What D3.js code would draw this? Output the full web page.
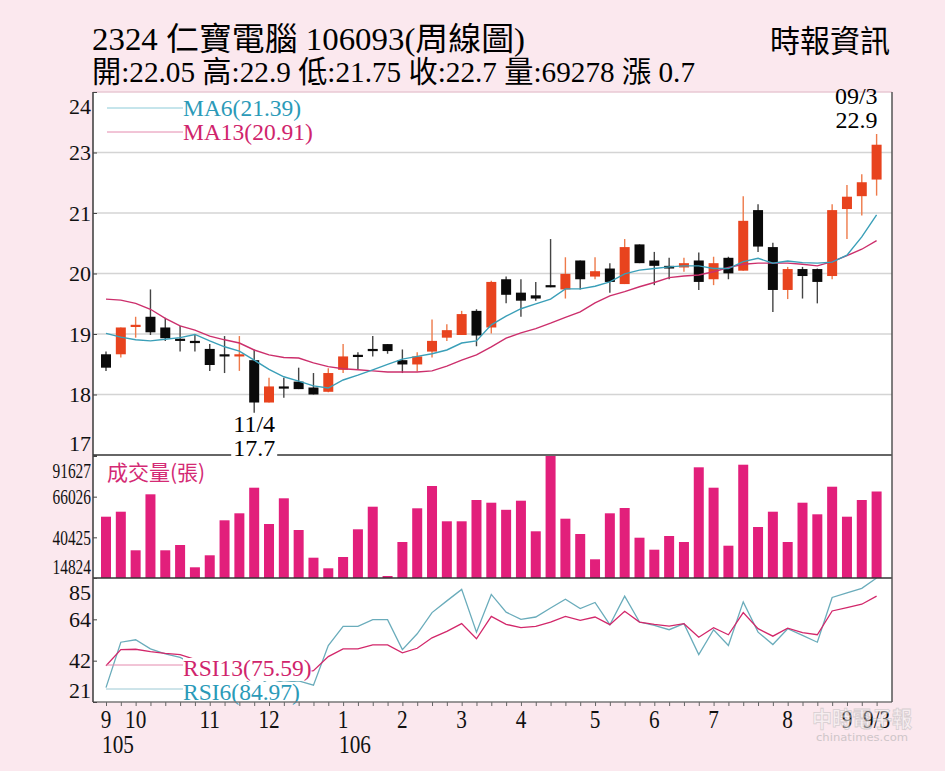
<!DOCTYPE html>
<html>
<head>
<meta charset="utf-8">
<script src="https://cdn.jsdelivr.net/npm/d3@7"></script>
<style>
  body { margin: 0; background: #fbe8ee; }
  svg { display: block; }
</style>
</head>
<body>
<svg width="945" height="771"></svg>
<script>
// weekly bars, 105/9 .. 106/9/3
var opens  = [18.79,18.79,19.30,19.49,19.29,19.08,19.04,18.89,18.79,18.75,18.68,17.89,18.19,18.28,18.17,18.09,18.50,18.78,18.89,18.98,
              18.68,18.60,18.84,19.10,19.15,19.60,19.29,20.19,19.94,19.89,20.08,20.00,20.54,20.24,20.39,20.10,20.84,20.54,20.44,20.41,
              20.54,20.19,20.59,20.35,21.48,20.79,19.99,20.38,20.38,20.25,21.50,21.74,22.05];
var highs  = [18.84,19.29,19.49,20.00,19.47,19.32,19.17,18.98,19.13,19.13,18.88,18.35,18.35,18.54,18.44,18.53,18.98,18.83,19.13,18.98,
              18.88,18.83,19.44,19.35,19.60,19.63,20.16,20.24,20.19,20.14,20.94,20.60,20.54,20.60,20.49,20.94,20.84,20.70,20.59,20.59,
              20.69,20.61,20.61,21.74,21.59,20.87,20.42,20.42,20.39,21.59,21.95,22.15,22.90];
var lows   = [18.48,18.73,19.10,19.15,19.04,18.84,18.84,18.48,18.44,18.48,17.70,17.89,17.98,18.14,18.04,18.08,18.44,18.50,18.75,18.80,
              18.44,18.47,18.73,19.04,19.15,18.94,19.18,19.74,19.49,19.79,20.04,19.83,20.00,20.19,19.94,20.10,20.49,20.08,20.19,20.33,
              19.99,20.08,20.19,20.35,20.70,19.58,19.82,19.83,19.74,20.19,20.94,21.38,21.75];
var closes = [18.54,19.29,19.34,19.20,19.09,19.04,19.00,18.59,18.75,18.79,17.89,18.19,18.15,18.14,18.04,18.44,18.75,18.75,18.85,18.85,
              18.60,18.75,19.04,19.24,19.54,19.14,20.14,19.90,19.79,19.83,20.04,20.29,20.19,20.34,20.14,20.79,20.49,20.44,20.39,20.49,
              20.14,20.49,20.30,21.28,20.80,19.99,20.38,20.25,20.14,21.48,21.73,22.00,22.70];
var ma6    = [19.18,19.11,19.06,19.04,19.07,19.10,19.16,19.04,18.93,18.85,18.68,18.51,18.37,18.29,18.20,18.16,18.31,18.40,18.50,18.60,
              18.70,18.75,18.80,18.87,19.00,19.04,19.34,19.50,19.64,19.73,19.82,20.01,20.01,20.06,20.14,20.29,20.36,20.39,20.42,20.44,
              20.44,20.39,20.39,20.52,20.58,20.49,20.53,20.50,20.49,20.51,20.64,20.98,21.39];
var ma13   = [19.82,19.80,19.74,19.63,19.46,19.32,19.24,19.13,19.06,19.00,18.87,18.78,18.73,18.72,18.63,18.56,18.52,18.50,18.48,18.46,
              18.46,18.46,18.48,18.57,18.68,18.78,18.93,19.09,19.19,19.27,19.37,19.48,19.58,19.75,19.88,19.96,20.05,20.13,20.22,20.25,
              20.27,20.33,20.41,20.47,20.49,20.49,20.49,20.47,20.44,20.52,20.63,20.75,20.91];
var volumes = [53414,56560,32261,67513,32261,35598,21560,29114,51146,55553,71668,48817,64995,45040,27603,20930,28044,45481,59707,16083,
               37486,58700,72738,50517,50517,63925,62225,57756,63484,44222,91627,52153,42522,26596,55553,58889,40193,32639,41263,37486,
               84509,71668,35157,86146,46929,56560,37486,62225,54923,72297,53414,63925,69278];
var rsi6  = [28.37,51.8,53.05,48.36,45.76,43.99,40,36,34,36,28,33,31,31.86,29.62,50.08,59.97,59.97,63.46,63.46,
             48.0,56.17,67.11,73.15,79.08,57.0,76.48,67.3,63.62,64.82,69.5,74.03,69.2,72.32,60.86,75.6,62.22,60.5,58.26,61.38,
             45.39,58.26,50.08,72.62,57.0,50.6,58.78,55.29,51.8,74.92,77.32,79.62,84.97];
var rsi13 = [39.67,48.0,48.16,46.96,46.07,45.39,43,41,40,40.5,36,38,37,36,37.06,44.35,48.36,48.36,50.42,50.42,
             46.28,48.68,54.09,57.37,61.38,53.57,65.18,61.02,59.3,59.97,62.22,65.18,63.1,64.82,60.86,67.78,62.22,61.02,60.14,61.38,
             54.4,59.3,55.65,67.11,58.78,54.92,59.1,56.7,55.65,67.94,69.7,71.43,75.59];

// axis labels
var priceLabels = ["17","18","19","20","21","23","24"];
var volTicks = [14824, 40425, 66026, 91627];
var rsiLabels = ["21","42","64","85"];
var monthIdx    = [0, 2, 7, 11, 16, 20, 24, 28, 33, 37, 41, 46, 50, 52];
var monthLabels = ["9","10","11","12","1","2","3","4","5","6","7","8","9","9/3"];
var yearIdx    = [0, 16];
var yearLabels = ["105", "106"];

var title1 = "2324  仁寶電腦 106093(周線圖)";
var title2 = "開:22.05 高:22.9 低:21.75 收:22.7 量:69278 漲 0.7";

var serif = "'Liberation Serif','Noto Sans CJK TC',serif";
var svg = d3.select("svg");

// layout
var L = 93, R = 892, T = 92, P1 = 455, P2 = 578, B = 702;

var x = d3.scaleLinear().domain([0, 52]).range([106, 876.6]);
var y = d3.scaleLinear().domain([17.7, 22.9]).range([412.7, 134]);
var gridY = d3.scaleLinear().domain([0, 6]).range([P1, T]);
var yVol = d3.scaleLinear().domain([14824, 91627]).range([P2, 456]);
var yRsi = d3.scaleLinear().domain([20.92, 84.97]).range([B, P2]);
var rsiGrid = d3.scaleLinear().domain([0, 3]).range([B, P2]);

function squeeze(sel, k) {
  sel.each(function () {
    var w = this.getComputedTextLength();
    d3.select(this).attr("textLength", w * k).attr("lengthAdjust", "spacingAndGlyphs");
  });
}

// header
svg.append("text").attr("x", 92).attr("y", 50).attr("font-family", serif).attr("font-size", 32)
  .attr("textLength", 433).attr("lengthAdjust", "spacingAndGlyphs").text(title1);
svg.append("text").attr("x", 92).attr("y", 82).attr("font-family", serif).attr("font-size", 30)
  .attr("textLength", 603).attr("lengthAdjust", "spacingAndGlyphs").text(title2);
svg.append("text").attr("x", 770).attr("y", 52).attr("font-family", serif).attr("font-size", 31)
  .attr("textLength", 120).attr("lengthAdjust", "spacingAndGlyphs").text("時報資訊");

// plot background
svg.append("rect").attr("x", L).attr("y", T).attr("width", R - L).attr("height", B - T).attr("fill", "#fff");

// price grid
svg.append("g").selectAll("line").data(d3.range(1, 6)).join("line")
  .attr("x1", L).attr("x2", R).attr("y1", gridY).attr("y2", gridY)
  .attr("stroke", "#d4d4d4").attr("stroke-width", 1.5);

// candles
var cw = 10;
var candles = svg.append("g").selectAll("g").data(d3.range(opens.length)).join("g");
candles.append("line")
  .attr("x1", i => x(i)).attr("x2", i => x(i))
  .attr("y1", i => y(highs[i])).attr("y2", i => y(lows[i]))
  .attr("stroke", i => closes[i] >= opens[i] ? "#ee7a4a" : "#444").attr("stroke-width", 1.4);
candles.append("rect")
  .attr("x", i => x(i) - cw / 2).attr("width", cw)
  .attr("y", i => y(Math.max(opens[i], closes[i])))
  .attr("height", i => Math.max(2.2, Math.abs(y(opens[i]) - y(closes[i]))))
  .attr("fill", i => closes[i] >= opens[i] ? "#e8431e" : "#0a0a0a");

// moving averages
var line = d3.line().x((d, i) => x(i)).y(d => y(d));
svg.append("path").attr("d", line(ma13)).attr("fill", "none").attr("stroke", "#cc2f6c").attr("stroke-width", 1.4);
svg.append("path").attr("d", line(ma6)).attr("fill", "none").attr("stroke", "#3a9fb8").attr("stroke-width", 1.4);

// MA legend
svg.append("line").attr("x1", 107).attr("x2", 183).attr("y1", 108).attr("y2", 108).attr("stroke", "#8ccbd8").attr("stroke-width", 1);
svg.append("line").attr("x1", 107).attr("x2", 183).attr("y1", 132).attr("y2", 132).attr("stroke", "#e48aae").attr("stroke-width", 1);
svg.append("text").attr("x", 183).attr("y", 116).attr("font-family", serif).attr("font-size", 23.5)
  .attr("fill", "#2b9ab8").text("MA6(21.39)");
svg.append("text").attr("x", 183).attr("y", 140).attr("font-family", serif).attr("font-size", 23.5)
  .attr("fill", "#d0246c").text("MA13(20.91)");

// volume
svg.append("g").selectAll("rect").data(volumes).join("rect")
  .attr("x", (d, i) => x(i) - 5).attr("width", 10)
  .attr("y", d => yVol(d)).attr("height", d => P2 - yVol(d))
  .attr("fill", "#e21f7b");
svg.append("text").attr("x", 107).attr("y", 480).attr("font-family", "'Noto Sans CJK TC',sans-serif")
  .attr("font-size", 21).attr("fill", "#d42a74").text("成交量(張)");

// RSI
var rline = d3.line().x((d, i) => x(i)).y(d => yRsi(d));
svg.append("path").attr("d", rline(rsi6)).attr("fill", "none").attr("stroke", "#6aacbb").attr("stroke-width", 1.3);
svg.append("path").attr("d", rline(rsi13)).attr("fill", "none").attr("stroke", "#d2276a").attr("stroke-width", 1.3);

svg.append("line").attr("x1", 106).attr("x2", 183).attr("y1", 665).attr("y2", 665).attr("stroke", "#e48aae").attr("stroke-width", 1);
svg.append("line").attr("x1", 106).attr("x2", 183).attr("y1", 689).attr("y2", 689).attr("stroke", "#9cc9d4").attr("stroke-width", 1);
var rsiLeg = svg.append("g");
[["RSI13(75.59)", 676, "#d0246c"], ["RSI6(84.97)", 700, "#2b9ab8"]].forEach(function (d) {
  var t = rsiLeg.append("text").attr("x", 183).attr("y", d[1]).attr("font-family", serif)
    .attr("font-size", 23.5).attr("fill", d[2]).text(d[0]);
  var bb = t.node().getBBox();
  rsiLeg.insert("rect", "text").attr("x", bb.x).attr("y", bb.y + 3).attr("width", bb.width)
    .attr("height", Math.min(bb.height - 3, B - bb.y - 4)).attr("fill", "#fff");
});

// frame
svg.append("line").attr("x1", L).attr("x2", R).attr("y1", T).attr("y2", T).attr("stroke", "#e9c9d3").attr("stroke-width", 1.5);
svg.append("line").attr("x1", L).attr("x2", R).attr("y1", P1).attr("y2", P1).attr("stroke", "#333").attr("stroke-width", 1.5);
svg.append("line").attr("x1", L).attr("x2", R).attr("y1", P2).attr("y2", P2).attr("stroke", "#333").attr("stroke-width", 1.5);
svg.append("line").attr("x1", L).attr("x2", R).attr("y1", B).attr("y2", B).attr("stroke", "#777").attr("stroke-width", 1.5);
svg.append("line").attr("x1", L).attr("x2", L).attr("y1", T).attr("y2", B).attr("stroke", "#3a3a3a").attr("stroke-width", 1.5);
svg.append("line").attr("x1", R).attr("x2", R).attr("y1", T).attr("y2", B).attr("stroke", "#555").attr("stroke-width", 1.5);

// left axes
function leftAxis(scale, values, fmt, nudge, k) {
  var g = svg.append("g").attr("transform", "translate(" + L + ",0)")
    .call(d3.axisLeft(scale).tickValues(values).tickFormat(fmt).tickSize(-4).tickPadding(2));
  g.select(".domain").remove();
  g.selectAll("line").attr("stroke", "#444");
  g.selectAll("text").attr("font-family", serif).attr("font-size", 22).attr("fill", "#111")
    .attr("transform", (d, i) => "translate(0," + nudge(i, values.length) + ")");
  if (k) squeeze(g.selectAll("text"), k);
  return g;
}
var edge = (i, n) => i === 0 ? -12 : (i === n - 1 ? 14 : 0);
leftAxis(gridY, d3.range(7), i => priceLabels[i], edge);
leftAxis(yVol, volTicks, d3.format("d"), edge, 0.7);
leftAxis(rsiGrid, d3.range(4), i => rsiLabels[i], edge);

// bottom axis
var xg = svg.append("g").attr("transform", "translate(0," + B + ")")
  .call(d3.axisBottom(x).tickValues(d3.range(53)).tickSize(4).tickFormat(""));
xg.select(".domain").remove();
xg.selectAll("line").attr("stroke", "#666");

var ml = svg.append("g").selectAll("text").data(monthIdx).join("text")
  .attr("x", d => x(d)).attr("y", 728).attr("text-anchor", "middle")
  .attr("font-family", serif).attr("font-size", 25).attr("fill", "#111")
  .text((d, i) => monthLabels[i]);
squeeze(ml, 0.85);
var yl = svg.append("g").selectAll("text").data(yearIdx).join("text")
  .attr("x", d => x(d) - 4).attr("y", 753)
  .attr("font-family", serif).attr("font-size", 25).attr("fill", "#111")
  .text((d, i) => yearLabels[i]);
squeeze(yl, 0.85);

// low / high notes
var lowI = lows.indexOf(d3.min(lows)), highI = highs.indexOf(d3.max(highs));
svg.append("text").attr("x", x(lowI)).attr("y", 432).attr("text-anchor", "middle")
  .attr("font-family", serif).attr("font-size", 24).text("11/4");
var lowBg = svg.append("rect").attr("fill", "#fff");
var lowT = svg.append("text").attr("x", x(lowI)).attr("y", 456).attr("text-anchor", "middle")
  .attr("font-family", serif).attr("font-size", 24).text(d3.min(lows).toFixed(1));
var lb = lowT.node().getBBox();
lowBg.attr("x", lb.x - 2).attr("y", P1 - 3).attr("width", lb.width + 4).attr("height", 6);
svg.append("text").attr("x", x(highI) + 1).attr("y", 104).attr("text-anchor", "end")
  .attr("font-family", serif).attr("font-size", 24).text("09/3");
svg.append("text").attr("x", x(highI) + 1).attr("y", 128).attr("text-anchor", "end")
  .attr("font-family", serif).attr("font-size", 24).text(d3.max(highs).toFixed(1));

// watermark
var wm = svg.append("g").attr("opacity", 0.55);
wm.append("text").attr("x", 812).attr("y", 727).attr("font-family", "'Noto Sans CJK TC',sans-serif")
  .attr("font-size", 22).attr("font-weight", 700).attr("fill", "#f4f4f4").attr("stroke", "#b8b8b8")
  .attr("stroke-width", 0.8).attr("textLength", 100).attr("lengthAdjust", "spacingAndGlyphs").text("中時電子報");
wm.append("text").attr("x", 816).attr("y", 741).attr("font-family", "'DejaVu Sans',sans-serif")
  .attr("font-size", 10).attr("fill", "#aaa").attr("textLength", 92).attr("lengthAdjust", "spacingAndGlyphs")
  .text("chinatimes.com");
</script>
</body>
</html>
